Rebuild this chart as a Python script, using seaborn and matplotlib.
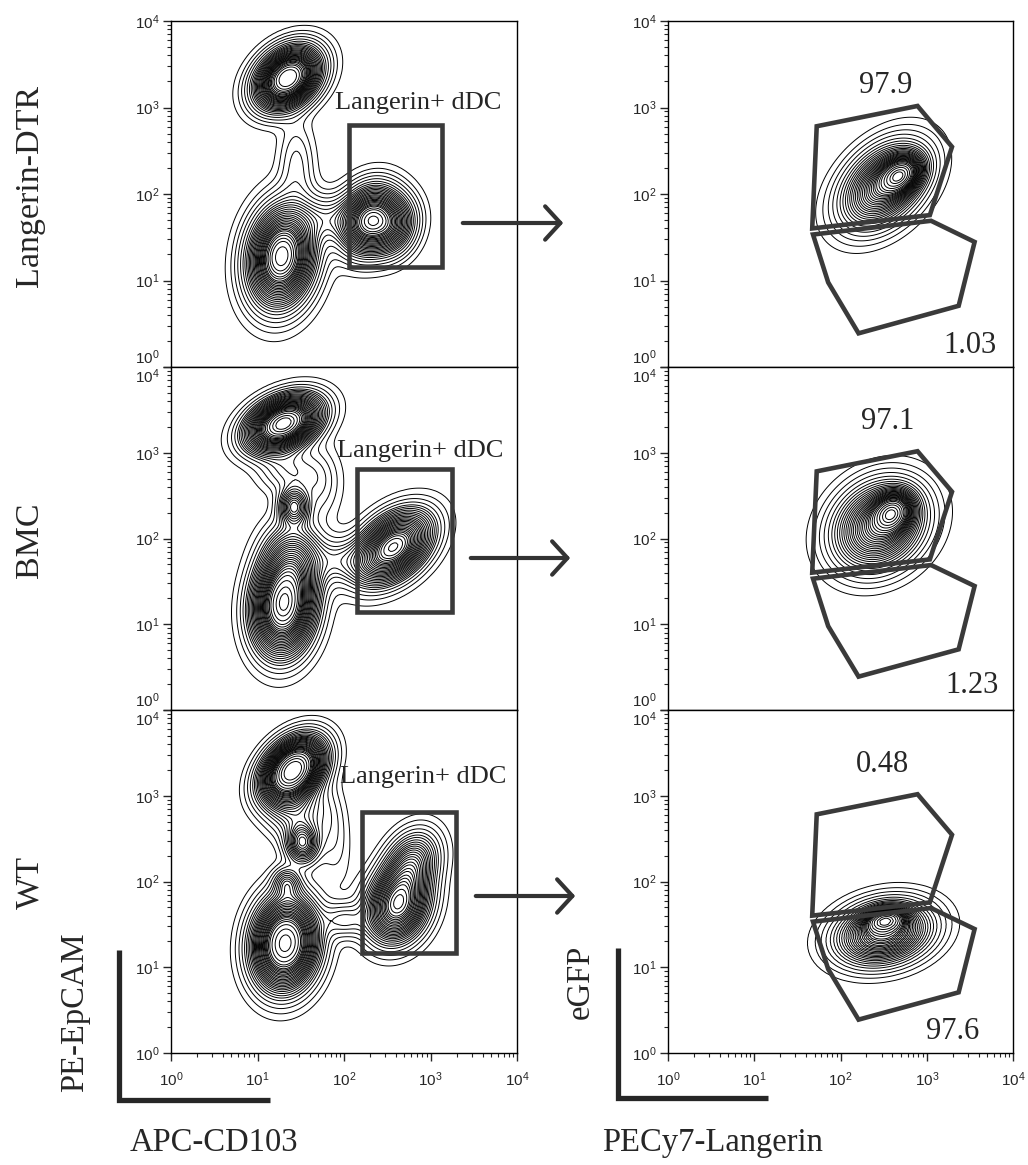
import numpy as np
import matplotlib
matplotlib.use("Agg")
import matplotlib.pyplot as plt
import seaborn as sns
from matplotlib.ticker import FixedLocator, LogLocator, NullFormatter, LogFormatterSciNotation
from matplotlib.patches import FancyArrowPatch, Polygon, Rectangle
from matplotlib.lines import Line2D

# ---------------- data (log10 units for population centres / spreads) ----------------
row_names = ["Langerin-DTR", "BMC", "WT"]
decade_ticks = [1, 10, 100, 1000, 10000]

# populations: (centre log10 x, centre log10 y, sd x, sd y, correlation, weight)
dtr_epcam_pops = [(1.35, 3.34, 0.21, 0.19, 0.35, 1.00),
                  (1.28, 1.28, 0.22, 0.33, 0.15, 1.55),
                  (2.30, 1.70, 0.20, 0.22, 0.20, 0.80),
                  (2.58, 1.62, 0.16, 0.19, 0.20, 0.22),
                  (1.80, 1.72, 0.22, 0.14, 0.00, 0.10),
                  (1.45, 2.35, 0.12, 0.30, 0.00, 0.07)]
bmc_epcam_pops = [(1.30, 3.34, 0.24, 0.17, 0.40, 0.95),
                  (1.42, 2.37, 0.09, 0.11, 0.00, 0.10),
                  (1.30, 1.22, 0.20, 0.32, 0.10, 1.40),
                  (1.42, 1.75, 0.20, 0.25, 0.00, 0.35),
                  (2.57, 1.90, 0.25, 0.23, 0.45, 0.95),
                  (1.95, 1.75, 0.20, 0.15, 0.00, 0.08),
                  (1.70, 2.65, 0.15, 0.25, 0.00, 0.07),
                  (1.35, 2.80, 0.20, 0.15, 0.00, 0.08)]
wt_epcam_pops = [(1.41, 3.30, 0.20, 0.20, 0.40, 1.00),
                 (1.52, 2.45, 0.10, 0.12, 0.00, 0.12),
                 (1.34, 1.98, 0.08, 0.08, 0.00, 0.04),
                 (1.32, 1.28, 0.21, 0.30, 0.10, 1.40),
                 (2.62, 1.72, 0.20, 0.24, 0.20, 0.75),
                 (2.78, 2.20, 0.18, 0.22, 0.30, 0.30),
                 (2.00, 1.55, 0.15, 0.10, 0.00, 0.05),
                 (1.85, 2.60, 0.12, 0.35, -0.30, 0.05),
                 (1.45, 2.85, 0.20, 0.20, 0.00, 0.16)]

dtr_egfp_pops = [(2.50, 2.10, 0.27, 0.27, 0.40, 1.00),
                 (2.70, 2.22, 0.14, 0.13, 0.30, 0.30)]
bmc_egfp_pops = [(2.45, 2.15, 0.29, 0.28, 0.20, 1.00),
                 (2.60, 2.30, 0.13, 0.13, 0.20, 0.25)]
wt_egfp_pops = [(2.50, 1.40, 0.30, 0.20, 0.20, 1.00),
                (2.52, 1.55, 0.13, 0.08, 0.20, 0.20)]

# rectangular "Langerin+ dDC" gates (linear units): x0, x1, y0, y1
dtr_rect_gate = [115, 1350, 14.5, 630]
bmc_rect_gate = [143, 1758, 14.0, 641]
wt_rect_gate = [160, 1972, 14.6, 652]

# polygon gates on the eGFP / Langerin plots (linear units)
egfp_pos_gate_x = [53, 782, 1963, 1086, 47]
egfp_pos_gate_y = [607, 1042, 351, 57, 40]
egfp_neg_gate_x = [48, 72, 162, 2344, 3589, 1122]
egfp_neg_gate_y = [34, 9.5, 2.45, 5.1, 27.9, 49]

egfp_pos_pct = ["97.9", "97.1", "0.48"]
egfp_neg_pct = ["1.03", "1.23", "97.6"]

LEVELS = [0.01, 0.025, 0.045, 0.07, 0.10, 0.13, 0.16, 0.19, 0.22, 0.25, 0.28, 0.31,
          0.34, 0.37, 0.40, 0.43, 0.46, 0.49, 0.52, 0.55, 0.58, 0.61, 0.64, 0.67,
          0.70, 0.74, 0.78, 0.83, 0.88, 0.93, 0.97]

# ---------------- style ----------------
sns.set_style("ticks")
plt.rcParams["font.family"] = ["Liberation Sans", "DejaVu Sans"]
SERIF = ["Liberation Serif", "DejaVu Serif"]
GATE_COLOR = "#3a3a3a"

W, H = 1028, 1165
fig = plt.figure(figsize=(W / 100, H / 100), dpi=100)

col_x = [(171, 517), (668, 1013)]
row_y = [21, 367, 710, 1053]


def rect(x0, x1, ytop, ybot):
    return [x0 / W, 1 - ybot / H, (x1 - x0) / W, (ybot - ytop) / H]


def weighted_grid(pops):
    g = np.arange(-0.3, 4.3, 0.04)
    GX, GY = np.meshgrid(g, g)
    dens = np.zeros_like(GX)
    for cx, cy, sx, sy, rho, w in pops:
        dx = (GX - cx) / sx
        dy = (GY - cy) / sy
        q = (dx * dx - 2 * rho * dx * dy + dy * dy) / (1 - rho ** 2)
        dens += w * np.exp(-0.5 * q) / (2 * np.pi * sx * sy * np.sqrt(1 - rho ** 2))
    keep = dens > dens.max() * 1e-3
    return 10 ** GX[keep], 10 ** GY[keep], dens[keep]


def style_axes(ax, row):
    bottom_row = row == 2
    ax.set_xscale("log")
    ax.set_yscale("log")
    ax.set_xlim(1, 1e4)
    ax.set_ylim(1, 1e4)
    for axis in (ax.xaxis, ax.yaxis):
        axis.set_major_locator(FixedLocator(decade_ticks))
        axis.set_major_formatter(LogFormatterSciNotation())
        axis.set_minor_locator(LogLocator(base=10, subs=np.arange(2, 10), numticks=20))
        axis.set_minor_formatter(NullFormatter())
    ax.tick_params(which="major", direction="out", length=5.5, width=1, labelsize=11)
    ax.tick_params(which="minor", direction="out", length=3, width=0.8)
    ax.tick_params(axis="y", which="major", pad=3)
    ax.tick_params(axis="x", which="major", pad=7)
    if not bottom_row:
        ax.tick_params(axis="x", which="both", bottom=False, labelbottom=False)
    ax.set_xlabel("")
    ax.set_ylabel("")
    for s in ax.spines.values():
        s.set_linewidth(1.0)
        s.set_color("black")
    yt = ax.yaxis.get_major_ticks()
    if row < 2:
        yt[0].label1.set_va("bottom")
    if row > 0:
        yt[-1].label1.set_va("top")


left_pops = [dtr_epcam_pops, bmc_epcam_pops, wt_epcam_pops]
right_pops = [dtr_egfp_pops, bmc_egfp_pops, wt_egfp_pops]
rect_gates = [dtr_rect_gate, bmc_rect_gate, wt_rect_gate]

label_pos = [(10 ** 2.855, 10 ** 3.05), (10 ** 2.88, 10 ** 3.02), (10 ** 2.92, 10 ** 3.22)]
pos_pct_pos = [(10 ** 2.52, 10 ** 3.26), (10 ** 2.55, 10 ** 3.36), (10 ** 2.49, 10 ** 3.36)]
neg_pct_pos = [(10 ** 3.50, 10 ** 0.25), (10 ** 3.52, 10 ** 0.29), (10 ** 3.30, 10 ** 0.25)]
arrows_px = [((460, 223), (566, 223)), ((468, 558), (573, 558)), ((473, 896), (578, 896))]
row_label_y = [186, 540, 882]

for r in range(3):
    # ---- left: APC-CD103 vs PE-EpCAM ----
    axl = fig.add_axes(rect(col_x[0][0], col_x[0][1], row_y[r], row_y[r + 1]))
    gx, gy, gw = weighted_grid(left_pops[r])
    sns.kdeplot(x=gx, y=gy, weights=gw, log_scale=True, levels=LEVELS, color="black",
                linewidths=0.7, bw_adjust=0.3, gridsize=150, ax=axl)
    style_axes(axl, r)
    x0, x1, y0, y1 = rect_gates[r]
    axl.add_patch(Rectangle((x0, y0), x1 - x0, y1 - y0, fill=False, lw=3.3,
                            edgecolor=GATE_COLOR, zorder=5))
    axl.text(*label_pos[r], "Langerin+ dDC", ha="center", va="center",
             fontsize=19, family=SERIF, zorder=6)

    # ---- right: PECy7-Langerin vs eGFP ----
    axr = fig.add_axes(rect(col_x[1][0], col_x[1][1], row_y[r], row_y[r + 1]))
    gx, gy, gw = weighted_grid(right_pops[r])
    sns.kdeplot(x=gx, y=gy, weights=gw, log_scale=True, levels=LEVELS, color="black",
                linewidths=0.7, bw_adjust=0.3, gridsize=150, ax=axr)
    style_axes(axr, r)
    axr.add_patch(Polygon(np.column_stack([egfp_pos_gate_x, egfp_pos_gate_y]), closed=True,
                          fill=False, lw=3.3, edgecolor=GATE_COLOR, zorder=5))
    axr.add_patch(Polygon(np.column_stack([egfp_neg_gate_x, egfp_neg_gate_y]), closed=True,
                          fill=False, lw=3.3, edgecolor=GATE_COLOR, zorder=5))
    axr.text(*pos_pct_pos[r], egfp_pos_pct[r], ha="center", va="center",
             fontsize=22, family=SERIF)
    axr.text(*neg_pct_pos[r], egfp_neg_pct[r], ha="center", va="center",
             fontsize=22, family=SERIF)

    # ---- arrow between panels ----
    (ax0, ay0), (ax1, ay1) = arrows_px[r]
    arr = FancyArrowPatch((ax0 / W, 1 - ay0 / H), (ax1 / W, 1 - ay1 / H),
                          transform=fig.transFigure,
                          arrowstyle="->,head_length=0.55,head_width=0.6",
                          mutation_scale=20, lw=3.0, color="#333333")
    fig.add_artist(arr)

    # ---- row label ----
    fig.text(30 / W, 1 - row_label_y[r] / H, row_names[r], rotation=90, ha="center",
             va="center", fontsize=24.5, family=SERIF)

# ---------------- scale-bar axis labels ----------------
bar_kw = dict(color="#262626", lw=3.8, solid_capstyle="butt", solid_joinstyle="miter",
              transform=fig.transFigure)
fig.add_artist(Line2D([119 / W, 119 / W, 270 / W],
                      [1 - 950 / H, 1 - 1100 / H, 1 - 1100 / H], **bar_kw))
fig.add_artist(Line2D([618 / W, 618 / W, 768 / W],
                      [1 - 948 / H, 1 - 1098 / H, 1 - 1098 / H], **bar_kw))
fig.text(75 / W, 1 - 1012 / H, "PE-EpCAM", rotation=90, ha="center", va="center",
         fontsize=23.5, family=SERIF)
fig.text(581 / W, 1 - 982 / H, "eGFP", rotation=90, ha="center", va="center",
         fontsize=23.5, family=SERIF)
fig.text(214 / W, 1 - 1143 / H, "APC-CD103", ha="center", va="center",
         fontsize=23.5, family=SERIF)
fig.text(713 / W, 1 - 1143 / H, "PECy7-Langerin", ha="center", va="center",
         fontsize=23.5, family=SERIF)

fig.savefig("out.png", dpi=100)
